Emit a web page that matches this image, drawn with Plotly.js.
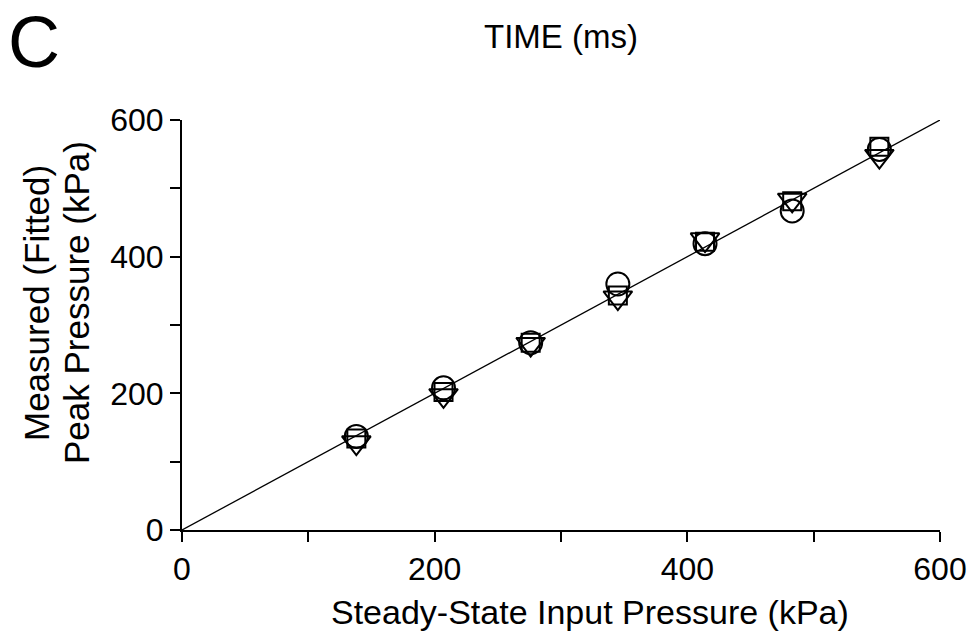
<!DOCTYPE html>
<html>
<head>
<meta charset="utf-8">
<script src="https://cdn.plot.ly/plotly-3.0.1.min.js"></script>
<style>html,body{margin:0;padding:0;background:#fff;}#chart{width:974px;height:638px;}</style>
</head>
<body>
<div id="chart"></div>
<script>
// Steady-state input pressure (kPa)
const inputPressure = [138, 207, 276, 345, 414, 483, 552];
// Measured (fitted) peak pressure (kPa), three series
const seriesCircle   = [137, 208, 274, 360, 419, 467, 557];
const seriesSquare   = [134, 202, 274, 343, 422, 481, 561];
const seriesTriangle = [128, 197, 272, 340, 425, 483, 547];
// Identity line endpoints
const lineX = [0, 600];
const lineY = [0, 600];
const tickVals = [0, 200, 400, 600];

const FONT = '"Liberation Sans", Arial, sans-serif';
const mk = (sym, size) => ({symbol: sym, size: size, color: '#000', line: {color: '#000', width: 2}});

const traces = [
  {x: lineX, y: lineY, mode: 'lines', line: {color: '#000', width: 1.3}, hoverinfo: 'skip'},
  {x: inputPressure, y: seriesSquare, mode: 'markers', marker: mk('square-open', 18)},
  {x: inputPressure, y: seriesCircle, mode: 'markers', marker: mk('circle-open', 23)},
  {x: inputPressure, y: seriesTriangle, mode: 'markers', marker: mk('triangle-down-open', 25)}
];

const axisCommon = {
  range: [0, 600], tickvals: tickVals, ticktext: tickVals.map(String),
  showgrid: false, zeroline: false, showline: true, linecolor: '#000', linewidth: 2,
  ticks: 'outside', ticklen: 10, tickwidth: 2, tickcolor: '#000',
  minor: {dtick: 100, ticks: 'outside', ticklen: 10, tickwidth: 2, tickcolor: '#000'},
  tickfont: {family: FONT, size: 32, color: '#000'},
  automargin: false, fixedrange: true
};

const layout = {
  width: 974, height: 638,
  margin: {l: 182, r: 34, t: 120, b: 108},
  paper_bgcolor: '#fff', plot_bgcolor: '#fff',
  showlegend: false,
  font: {family: FONT, color: '#000'},
  xaxis: Object.assign({}, axisCommon),
  yaxis: Object.assign({}, axisCommon),
  annotations: [
    {text: 'C', xref: 'paper', yref: 'paper', x: (34 - 182) / 758, y: (530 - 42) / 410, xanchor: 'center', yanchor: 'middle',
     showarrow: false, font: {size: 72, family: FONT}},
    {text: 'TIME (ms)', xref: 'paper', yref: 'paper', x: (561 - 182) / 758, y: (530 - 36) / 410, xanchor: 'center', yanchor: 'middle',
     showarrow: false, font: {size: 33, family: FONT}},
    {text: 'Steady-State Input Pressure (kPa)', xref: 'paper', yref: 'paper', x: (590 - 182) / 758, y: (530 - 612) / 410,
     xanchor: 'center', yanchor: 'middle', showarrow: false, font: {size: 34, family: FONT}},
    {text: 'Measured (Fitted)', xref: 'paper', yref: 'paper', x: (36 - 182) / 758, y: (530 - 303) / 410, textangle: -90,
     xanchor: 'center', yanchor: 'middle', showarrow: false, font: {size: 35, family: FONT}},
    {text: 'Peak Pressure (kPa)', xref: 'paper', yref: 'paper', x: (76 - 182) / 758, y: (530 - 303) / 410, textangle: -90,
     xanchor: 'center', yanchor: 'middle', showarrow: false, font: {size: 35, family: FONT}}
  ]
};

Plotly.newPlot('chart', traces, layout, {displayModeBar: false, staticPlot: true});
</script>
</body>
</html>
